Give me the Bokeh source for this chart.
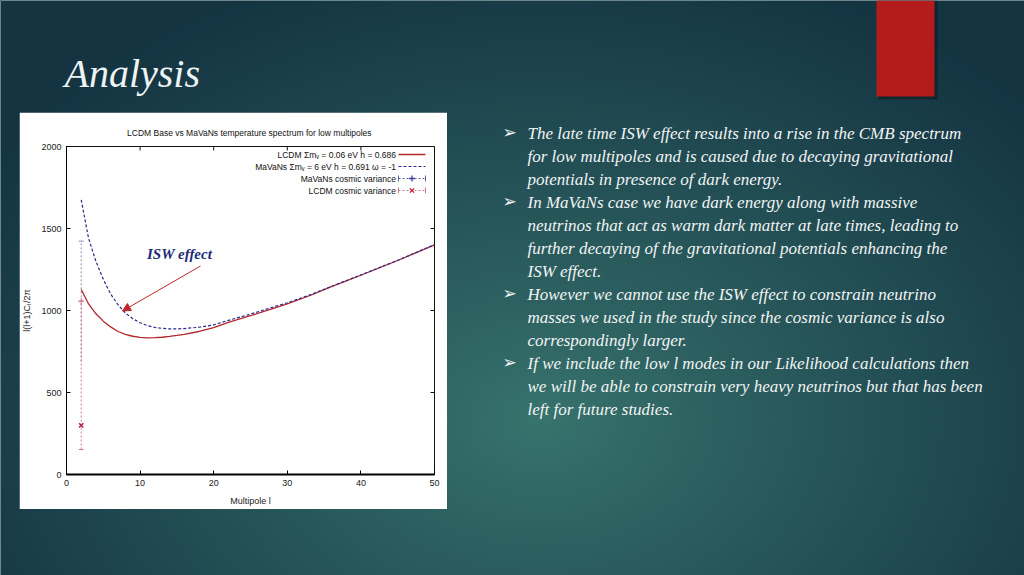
import numpy as np
from bokeh.plotting import figure
from bokeh.models import (Range1d, FixedTicker, GridBox, Arrow, NormalHead,
                          Label, Whisker, TeeHead, ColumnDataSource)
from bokeh.core.properties import value
from bokeh.embed import file_html
from bokeh.resources import INLINE

# ---------------- data ----------------
ell = [2, 3, 4, 5, 6, 7, 8, 9, 10, 11, 12, 13, 14, 15, 16, 18, 20, 22, 25, 28, 30, 33, 36, 40, 45, 50]
lcdm = [1128, 1040, 980, 935, 900, 872, 855, 843, 836, 833, 834, 837, 842, 848, 855,
        872, 895, 928, 968, 1012, 1040, 1090, 1145, 1215, 1305, 1400]
mavans = [1675, 1440, 1300, 1190, 1100, 1035, 985, 950, 925, 908, 897, 891, 888, 888, 890,
          898, 912, 940, 978, 1020, 1047, 1094, 1147, 1217, 1306, 1401]

cv_ell = [2]
mavans_cv = [1057]
mavans_cv_lo = [690]
mavans_cv_hi = [1423]
lcdm_cv = [300]
lcdm_cv_lo = [152]
lcdm_cv_hi = [1057]

x_ticks = [0, 10, 20, 30, 40, 50]
y_ticks = [0, 500, 1000, 1500, 2000]

chart_title = "LCDM Base vs MaVaNs  temperature spectrum for low multipoles"
x_label = "Multipole l"
y_label = "l(l+1)C\u2097/2\u03c0"
legend_labels = ["LCDM \u03a3m\u1d65 = 0.06 eV h = 0.686",
                 "MaVaNs \u03a3m\u1d65 = 6 eV h = 0.691 \u03c9 = -1",
                 "MaVaNs cosmic variance",
                 "LCDM cosmic variance"]
annotation_text = "ISW effect"

slide_title = "Analysis"
bullets = [
    ["The late time ISW effect results into a rise in the CMB spectrum",
     "for low multipoles and is caused due to decaying  gravitational",
     "potentials in presence of dark energy."],
    ["In MaVaNs case we have dark energy along with massive",
     "neutrinos that act as warm dark matter at late times, leading to",
     "further decaying of the gravitational potentials enhancing the",
     "ISW effect."],
    ["However we cannot use the ISW effect to constrain neutrino",
     "masses we used in the study  since the cosmic variance is also",
     "correspondingly larger."],
    ["If we include the low l modes in our Likelihood calculations then",
     "we will be able to constrain very heavy neutrinos but that has been",
     "left for future studies."],
]

# ---------------- styles / layout constants ----------------
W, H = 1024, 575
PANEL_X, PANEL_Y, PANEL_W, PANEL_H = 19, 112, 428, 397
FX0, FX1, FY0, FY1 = 66, 434, 146, 474   # chart frame in page px
RED = "#b3262a"
BLUE = "#2a2a8c"
SANS = "Liberation Sans"

def dx(px):
    return (px - FX0) / (FX1 - FX0) * (x_ticks[-1] - x_ticks[0]) + x_ticks[0]

def dy(py):
    return (FY1 - py) / (FY1 - FY0) * (y_ticks[-1] - y_ticks[0]) + y_ticks[0]

def fy(py):
    return H - py

# ---------------- background slide ----------------
bg = figure(width=W, height=H, x_range=Range1d(0, W), y_range=Range1d(0, H),
            x_axis_type=None, y_axis_type=None, output_backend="svg",
            toolbar_location=None, min_border=0)
bg.grid.visible = False
bg.outline_line_color = None

GH, GW = 288, 512
rows, cols = np.mgrid[0:GH, 0:GW]
gx = (cols + 0.5) * W / GW
gy = H - (rows + 0.5) * H / GH
dist = np.sqrt(((gx - 540) / 660) ** 2 + ((gy - 420) / 480) ** 2)
t = np.clip(dist, 0, 1) ** 0.9
inner = np.array([56, 116, 110], dtype=float)
outer = np.array([20, 52, 66], dtype=float)
rgb = inner[None, None, :] * (1 - t)[..., None] + outer[None, None, :] * t[..., None]
img = np.empty((GH, GW), dtype=np.uint32)
view = img.view(dtype=np.uint8).reshape((GH, GW, 4))
view[..., 0] = rgb[..., 0].astype(np.uint8)
view[..., 1] = rgb[..., 1].astype(np.uint8)
view[..., 2] = rgb[..., 2].astype(np.uint8)
view[..., 3] = 255
bg.image_rgba(image=[img], x=0, y=0, dw=W, dh=H)

# red accent rectangle with a slight shadow
bg.quad(left=878, right=937, bottom=fy(99), top=fy(0), fill_color="black", fill_alpha=0.3, line_color=None)
bg.quad(left=876, right=934, bottom=fy(96), top=fy(0), fill_color="#b31c1a", line_color=None)

bg.text(x=[64], y=[fy(73)], text=[slide_title], text_font=value("Liberation Serif"),
        text_font_style="italic", text_font_size="40px", text_color="#eef3f3",
        text_baseline="alphabetic")

line_y0, line_step = 133, 23.0
tx, ty, bx, by = [], [], [], []
k = 0
for para in bullets:
    for j, ln in enumerate(para):
        yy = line_y0 + k * line_step
        tx.append(527)
        ty.append(fy(yy))
        if j == 0:
            bx.append(502)
            by.append(fy(yy - 2))
        k += 1
lines = [ln for para in bullets for ln in para]
bg.text(x=tx, y=ty, text=lines, text_font=value("Liberation Serif"), text_font_style="italic",
        text_font_size="17px", text_color="#f2f4f4", text_baseline="middle")
bg.text(x=bx, y=by, text=["\u27a2"] * len(bx), text_font=value("DejaVu Sans"),
        text_font_size="17px", text_color="#f2f4f4", text_baseline="middle")

# ---------------- chart ----------------
chart = figure(width=PANEL_W, height=PANEL_H,
               x_range=Range1d(x_ticks[0], x_ticks[-1]), y_range=Range1d(y_ticks[0], y_ticks[-1]),
               output_backend="svg", toolbar_location=None,
               min_border_left=FX0 - PANEL_X, min_border_right=PANEL_X + PANEL_W - FX1,
               min_border_top=FY0 - PANEL_Y, min_border_bottom=PANEL_Y + PANEL_H - FY1,
               background_fill_color="white", border_fill_color="white",
               title=chart_title)
chart.grid.visible = False
chart.outline_line_color = "#111111"
chart.outline_line_width = 1
chart.title.text_font = SANS
chart.title.text_font_size = "8.5px"
chart.title.text_font_style = "normal"
chart.title.text_color = "#111111"
chart.title.align = "center"
chart.title.standoff = 17

chart.xaxis.ticker = FixedTicker(ticks=x_ticks)
chart.yaxis.ticker = FixedTicker(ticks=y_ticks)
chart.xaxis.axis_label = x_label
chart.yaxis.axis_label = y_label
for ax in (chart.xaxis[0], chart.yaxis[0]):
    ax.major_tick_in = 4
    ax.major_tick_out = 0
    ax.minor_tick_line_color = None
    ax.major_label_text_font = SANS
    ax.major_label_text_font_size = "9px"
    ax.major_label_text_color = "#222222"
    ax.axis_label_text_font = SANS
    ax.axis_label_text_font_size = "9px"
    ax.axis_label_text_font_style = "normal"
    ax.axis_label_text_color = "#222222"
    ax.major_label_standoff = 5
chart.xaxis.axis_line_width = 2
chart.xaxis.axis_label_standoff = 7
chart.yaxis.axis_label_standoff = 6
chart.yaxis.major_label_orientation = "horizontal"

# mirrored inward ticks on the top and right borders (gnuplot style)
tlx = 4 * (x_ticks[-1] - x_ticks[0]) / (FX1 - FX0)
tly = 4 * (y_ticks[-1] - y_ticks[0]) / (FY1 - FY0)
chart.segment(x0=[x_ticks[-1] - tlx] * len(y_ticks), x1=[x_ticks[-1]] * len(y_ticks),
              y0=y_ticks, y1=y_ticks, line_color="#111111", line_width=1)
chart.segment(x0=x_ticks, x1=x_ticks, y0=[y_ticks[-1] - tly] * len(x_ticks),
              y1=[y_ticks[-1]] * len(x_ticks), line_color="#111111", line_width=1)

# curves
chart.line(ell, lcdm, line_color=RED, line_width=1.3)
chart.line(ell, mavans, line_color=BLUE, line_width=1.2, line_dash="3 2")

# cosmic variance error bars
src_m = ColumnDataSource(dict(x=cv_ell, y=mavans_cv, lo=mavans_cv_lo, hi=mavans_cv_hi))
src_l = ColumnDataSource(dict(x=cv_ell, y=lcdm_cv, lo=lcdm_cv_lo, hi=lcdm_cv_hi))
chart.add_layout(Whisker(source=src_m, base="x", lower="lo", upper="hi", line_color="#8a8ab0",
                         line_dash="2 2", line_width=1,
                         upper_head=TeeHead(size=5, line_color="#8a8ab0"),
                         lower_head=None))
chart.add_layout(Whisker(source=src_l, base="x", lower="lo", upper="hi", line_color="#d07a8a",
                         line_dash="2 2", line_width=1,
                         upper_head=TeeHead(size=5, line_color="#d07a8a"),
                         lower_head=TeeHead(size=5, line_color="#d07a8a")))
chart.scatter("x", "y", source=src_m, marker="cross", size=6, line_color="#d07a8a", line_width=1)
chart.scatter("x", "y", source=src_l, marker="x", size=6, line_color="#b0204a", line_width=1.5)

# legend (gnuplot style: text right aligned, sample on the right)
leg_rows = [154, 166, 178, 190]
leg_text_x = 395.5
s0, s1 = 398, 425
chart.text(x=[dx(leg_text_x)] * 4, y=[dy(r) for r in leg_rows], text=legend_labels,
           text_align="right", text_baseline="middle", text_font=value(SANS),
           text_font_size="8.5px", text_color="#111111")
chart.segment(x0=[dx(s0)], x1=[dx(s1)], y0=[dy(leg_rows[0])], y1=[dy(leg_rows[0])],
              line_color=RED, line_width=1.3)
chart.segment(x0=[dx(s0)], x1=[dx(s1)], y0=[dy(leg_rows[1])], y1=[dy(leg_rows[1])],
              line_color=BLUE, line_width=1.2, line_dash="3 2")
for r, col, mk, mcol in ((leg_rows[2], "#6060a0", "cross", "#4040a0"),
                          (leg_rows[3], "#d07a8a", "x", "#c02030")):
    chart.segment(x0=[dx(s0)], x1=[dx(s1)], y0=[dy(r)], y1=[dy(r)],
                  line_color=col, line_width=1, line_dash="2 2")
    chart.segment(x0=[dx(s0), dx(s1)], x1=[dx(s0), dx(s1)], y0=[dy(r - 3)] * 2, y1=[dy(r + 3)] * 2,
                  line_color=col, line_width=1)
    chart.scatter(x=[dx((s0 + s1) / 2)], y=[dy(r)], marker=mk, size=6, line_color=mcol, line_width=1.3)

# ISW annotation
chart.add_layout(Arrow(end=NormalHead(size=8, fill_color="#c0282a", line_color="#c0282a"),
                       x_start=dx(200), y_start=dy(265.5), x_end=dx(122), y_end=dy(310.5),
                       line_color="#c0282a", line_width=1))
chart.add_layout(Label(x=dx(146.5), y=dy(253.5), text=annotation_text,
                       text_font="Liberation Serif", text_font_style="bold italic",
                       text_font_size="15px", text_color="#1c2a78", text_baseline="middle"))

layout = GridBox(children=[(bg, 0, 0, 3, 3), (chart, 1, 1, 1, 1)],
                 rows=[f"{PANEL_Y}px", f"{PANEL_H}px", f"{H - PANEL_Y - PANEL_H}px"],
                 cols=[f"{PANEL_X}px", f"{PANEL_W}px", f"{W - PANEL_X - PANEL_W}px"],
                 spacing=0)

tmpl = """{% block preamble %}<style>html, body { margin: 0 !important; padding: 0 !important; overflow: hidden; background: #18404c; }</style>{% endblock %}"""
open("out.html", "w").write(file_html(layout, INLINE, template=tmpl))
